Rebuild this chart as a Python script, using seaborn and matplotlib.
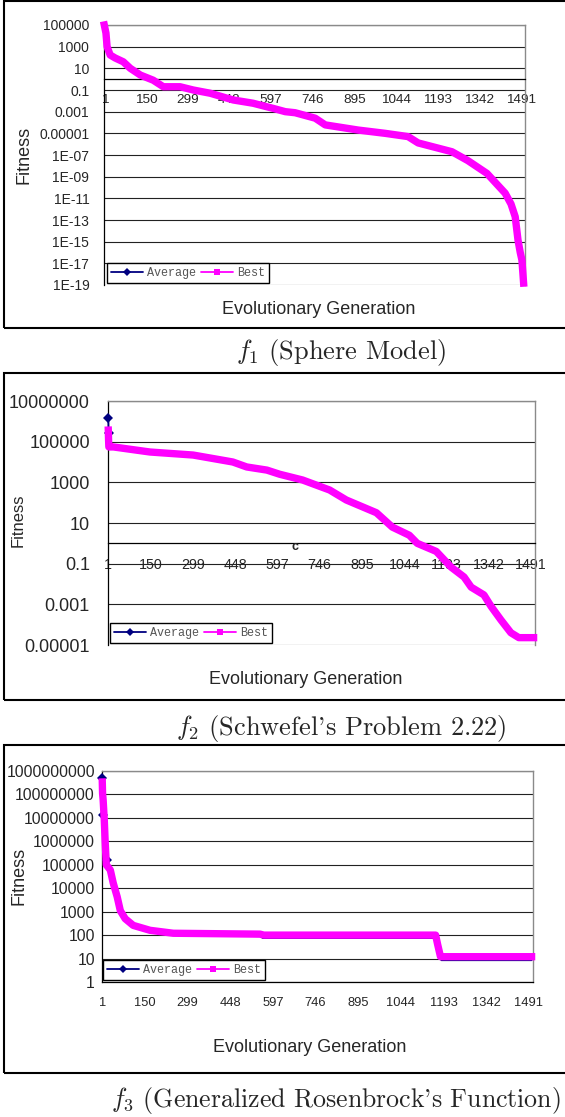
import matplotlib
matplotlib.use("Agg")
import matplotlib.pyplot as plt
import seaborn as sns
import pandas as pd
from matplotlib.ticker import MultipleLocator, NullLocator, FixedLocator
from matplotlib.lines import Line2D
from matplotlib.patches import Rectangle

# ---------------- data ----------------
x_tick_gens = [1, 150, 299, 448, 597, 746, 895, 1044, 1193, 1342, 1491]
x_tick_labels = ["1", "150", "299", "448", "597", "746", "895", "1044", "1193", "1342", "1491"]

# f1 (Sphere Model)
p1_yticks = [1e5, 1e3, 1e1, 1e-1, 1e-3, 1e-5, 1e-7, 1e-9, 1e-11, 1e-13, 1e-15, 1e-17, 1e-19]
p1_ylabels = ["100000", "1000", "10", "0.1", "0.001", "0.00001", "1E-07", "1E-09",
              "1E-11", "1E-13", "1E-15", "1E-17", "1E-19"]
p1_gen = [1, 7, 11, 22, 40, 69, 94, 130, 176, 212, 272, 319, 380, 462, 533, 605, 648, 683,
          755, 791, 909, 1005, 1087, 1123, 1244, 1301, 1369, 1434, 1455, 1470, 1480, 1488, 1494, 1500]
p1_best = [1e5, 1.8e4, 1e3, 170, 90, 40, 10, 2.4, 0.8, 0.2, 0.2, 0.1, 0.05, 0.012, 6e-3, 2e-3, 1e-3, 8e-4,
           2.5e-4, 6e-5, 2e-5, 1e-5, 5e-6, 1.3e-6, 2e-7, 3e-8, 2e-9, 3e-11, 3e-12, 2e-13, 1.4e-15, 1e-16, 2e-17, 1.5e-19]
p1_avg = [1e5, 1.8e4, 1e3, 170, 90, 40, 10, 2.4, 0.8, 0.2, 0.2, 0.1, 0.05, 0.012, 6e-3, 2e-3, 1e-3, 8e-4,
          2.5e-4, 6e-5, 2e-5, 1e-5, 5e-6, 1.3e-6, 2e-7, 3e-8, 2e-9, 3e-11, 3e-12, 2e-13, 1.4e-15, 1e-16, 4e-17, 5e-19]

# f2 (Schwefel's Problem 2.22)
p2_yticks = [1e7, 1e5, 1e3, 1e1, 1e-1, 1e-3, 1e-5]
p2_ylabels = ["10000000", "100000", "1000", "10", "0.1", "0.001", "0.00001"]
p2_gen = [1, 2, 3, 19, 148, 300, 440, 489, 560, 605, 686, 781, 840, 946, 1002, 1062, 1090, 1157,
          1209, 1255, 1280, 1325, 1350, 1385, 1420, 1448, 1500]
p2_best = [3.7e5, 1.2e5, 5.5e4, 5.5e4, 3.1e4, 2.2e4, 1.0e4, 5.7e3, 4e3, 2.5e3, 1.3e3, 420, 135, 32, 6.3, 2.5, 1.0, 0.4,
           0.068, 0.022, 7e-3, 2.9e-3, 8e-4, 1.7e-4, 4e-5, 2.3e-5, 2.3e-5]
p2_avg = [1.5e6, 2.6e5, 6e4, 5.5e4, 3.1e4, 2.2e4, 1.0e4, 5.7e3, 4e3, 2.5e3, 1.3e3, 420, 135, 32, 6.3, 2.5, 1.0, 0.4,
          0.068, 0.022, 7e-3, 2.9e-3, 8e-4, 1.7e-4, 4e-5, 2.1e-5, 2.0e-5]

# f3 (Generalized Rosenbrock's Function)
p3_yticks = [1e9, 1e8, 1e7, 1e6, 1e5, 1e4, 1e3, 1e2, 1e1, 1]
p3_ylabels = ["1000000000", "100000000", "10000000", "1000000", "100000", "10000", "1000", "100", "10", "1"]
p3_gen_best = [1, 2, 4, 8, 11, 15, 29, 39, 53, 64, 81, 109, 168, 249, 552, 565, 1165, 1172, 1182, 1500]
p3_best = [3.4e8, 1.1e8, 5.8e7, 8e6, 1e6, 1e5, 6e4, 1.7e4, 4.3e3, 1.1e3, 500, 260, 160, 120, 110, 100, 100, 40, 12, 12]
p3_gen_avg = [1, 3, 6, 11, 18, 29, 39, 53, 64, 81, 109, 168, 249, 552, 562, 1165, 1172, 1185, 1500]
p3_avg = [5e8, 1.3e7, 5e6, 1e6, 1.6e5, 5.5e4, 1.6e4, 4e3, 1e3, 450, 230, 140, 100, 90, 75, 75, 30, 8.5, 8.5]

captions = [r"$f_1$ (Sphere Model)", r"$f_2$ (Schwefel's Problem 2.22)",
            r"$f_3$ (Generalized Rosenbrock's Function)"]

# ---------------- style ----------------
sns.set_style("white")
plt.rcParams["font.family"] = ["Liberation Sans", "DejaVu Sans"]

W, H = 565, 1117
fig = plt.figure(figsize=(W / 100, H / 100), dpi=100)

NAVY = "#000080"
MAG = "#FF00FF"


def fx(px):
    return px / W


def fy(py):
    return 1 - py / H


panels = [
    dict(gen_b=p1_gen, best=p1_best, gen_a=p1_gen, avg=p1_avg, yt=p1_yticks, yl=p1_ylabels,
         ylim=(1e-19, 1e5), box=(104, 25, 525, 285), cross=True, ysize=10, ypad=7, xsize=9.7,
         frame=(1, 328), ylab=(24, 155, 13), xlab=(319, 310), leg=(107, 283),
         cap=(341, 352, 19), avg_mark=[]),
    dict(gen_b=p2_gen, best=p2_best, gen_a=p2_gen, avg=p2_avg, yt=p2_yticks, yl=p2_ylabels,
         ylim=(1e-5, 1e7), box=(108, 401, 535, 645), cross=True, ysize=13, ypad=9.5, xsize=10.3,
         frame=(373, 700), ylab=(18, 520, 12), xlab=(306, 679), leg=(110, 643),
         cap=(341, 728, 19), avg_mark=[0, 1]),
    dict(gen_b=p3_gen_best, best=p3_best, gen_a=p3_gen_avg, avg=p3_avg, yt=p3_yticks, yl=p3_ylabels,
         ylim=(1, 1e9), box=(102, 771, 533, 982), cross=False, ysize=11.3, ypad=1.5, xsize=9.3,
         frame=(745, 1073), ylab=(19, 876, 13), xlab=(310, 1047), leg=(103, 980),
         cap=(336, 1100, 18.6), avg_mark=[0, 1, 4]),
]

for i, p in enumerate(panels):
    l, t, r, b = p["box"]
    ax = fig.add_axes([fx(l), fy(b), (r - l) / W, (b - t) / H])
    ax.set_yscale("log")
    ax.set_axisbelow(True)

    dfa = pd.DataFrame({"gen": p["gen_a"], "val": p["avg"]})
    dfb = pd.DataFrame({"gen": p["gen_b"], "val": p["best"]})
    sns.lineplot(data=dfa, x="gen", y="val", ax=ax, color=NAVY, lw=1.3, estimator=None, sort=False,
                 marker="D", markersize=5, markevery=p["avg_mark"], markeredgewidth=0,
                 clip_on=False, zorder=3)
    sns.lineplot(data=dfb, x="gen", y="val", ax=ax, color=MAG, lw=5.3, estimator=None, sort=False,
                 solid_capstyle="projecting", solid_joinstyle="round", clip_on=False, zorder=4)

    ax.set_xlim(0, 1505)
    ax.set_ylim(*p["ylim"])
    ax.set_xlabel("")
    ax.set_ylabel("")

    ax.yaxis.set_major_locator(FixedLocator(p["yt"]))
    ax.yaxis.set_minor_locator(NullLocator())
    ax.set_yticklabels(p["yl"])
    ax.tick_params(axis="y", which="major", direction="out", length=3.6, width=0.8, color="black",
                   labelsize=p["ysize"], pad=p["ypad"])
    ax.yaxis.grid(True, color="#222222", lw=0.8)
    ax.xaxis.grid(False)

    ax.set_xticks(x_tick_gens)
    ax.set_xticklabels(x_tick_labels)
    ax.xaxis.set_minor_locator(MultipleLocator(50))
    ax.xaxis.remove_overlapping_locs = False
    ax.tick_params(axis="x", which="major", length=0, labelsize=p["xsize"], pad=10.5)
    ax.tick_params(axis="x", which="minor", direction="out", length=3.6, width=0.8, color="black")

    for s in ("top", "right"):
        ax.spines[s].set_color("#8a8a8a")
        ax.spines[s].set_linewidth(1.0)
    ax.spines["left"].set_color("black")
    ax.spines["left"].set_linewidth(0.9)
    ax.spines["bottom"].set_color("black")
    ax.spines["bottom"].set_linewidth(0.9)
    if p["cross"]:
        ax.spines["bottom"].set_position(("data", 1))

    # legend
    h_avg = Line2D([], [], color=NAVY, lw=1.3, marker="D", markersize=4.5, markeredgewidth=0)
    h_best = Line2D([], [], color=MAG, lw=1.3, marker="s", markersize=5, markeredgewidth=0)
    lx, lb = p["leg"]
    leg = ax.legend([h_avg, h_best], ["Average", "Best"], ncol=2, loc="lower left",
                    bbox_to_anchor=(fx(lx), fy(lb)), bbox_transform=fig.transFigure,
                    frameon=True, fancybox=False, shadow=False, edgecolor="black", framealpha=1,
                    prop={"family": "Liberation Mono", "size": 8.5}, labelcolor="#555555",
                    handlelength=2.7, handletextpad=0.3, columnspacing=0.5, borderpad=0.35,
                    borderaxespad=0)
    leg.get_frame().set_linewidth(1.0)
    leg.set_zorder(10)

    # axis titles
    yx, yy, ys = p["ylab"]
    fig.text(fx(yx), fy(yy), "Fitness", rotation=90, ha="center", va="center", fontsize=ys)
    xx, xy = p["xlab"]
    fig.text(fx(xx), fy(xy), "Evolutionary Generation", ha="center", va="center", fontsize=13)

    # outer frame of the chart
    ft, fb = p["frame"]
    fig.add_artist(Rectangle((fx(4), fy(fb)), (620 - 4) / W, (fb - ft) / H, transform=fig.transFigure,
                             fill=False, lw=1.5, ec="black"))

    # caption
    cx, cy, cs = p["cap"]
    fig.text(fx(cx), fy(cy), captions[i], ha="center", va="center", fontsize=cs,
             family="cmr10", math_fontfamily="cm")

# stray mark in the second chart
fig.text(fx(295), fy(547), "c", ha="center", va="center", fontsize=9, fontweight="bold")

fig.savefig("out.png", dpi=100)
